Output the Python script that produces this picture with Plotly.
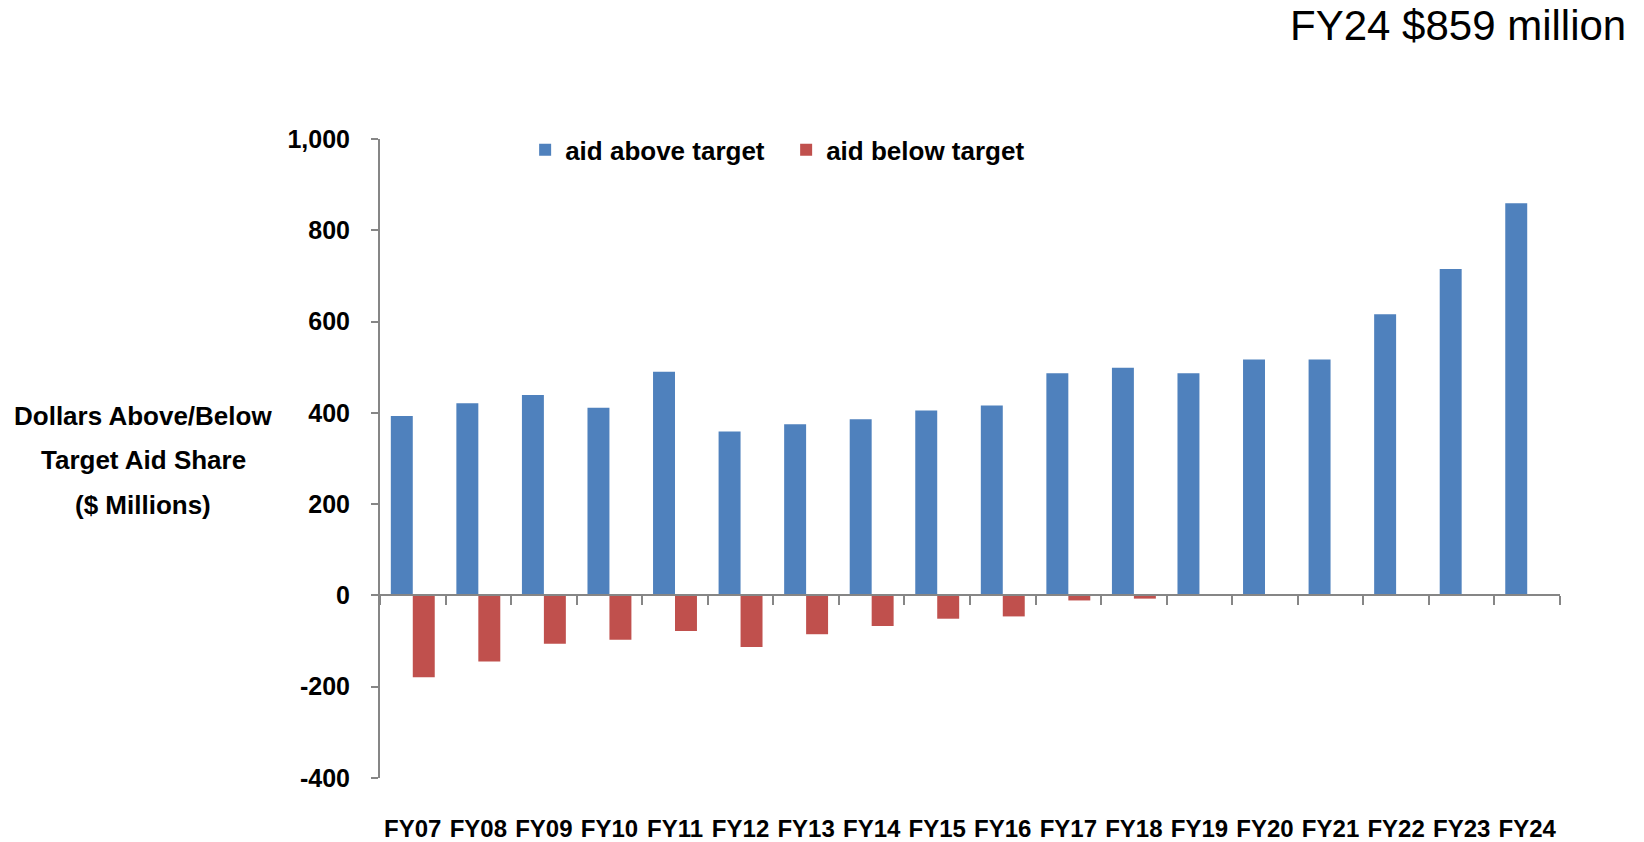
import plotly.graph_objects as go

# Fiscal years and aid relative to target share ($ millions)
years = ["FY07", "FY08", "FY09", "FY10", "FY11", "FY12", "FY13", "FY14", "FY15",
         "FY16", "FY17", "FY18", "FY19", "FY20", "FY21", "FY22", "FY23", "FY24"]
above_target = [393, 421, 439, 411, 490, 359, 375, 386, 405,
                416, 487, 499, 487, 517, 517, 616, 715, 859]
below_target = [-179, -145, -106, -97, -78, -113, -85, -67, -51,
                -46, -11, -7, 0, 0, 0, 0, 0, 0]

y_min, y_max = -400, 1000
y_ticks = [-400, -200, 0, 200, 400, 600, 800, 1000]
y_tick_text = ["-400", "-200", "0", "200", "400", "600", "800", "1,000"]

y_title_lines = ["Dollars Above/Below", "Target Aid Share", "($ Millions)"]

BLUE = "#4F81BD"
RED = "#C0504D"
GRAY = "#868686"
BOLD = "Liberation Sans"

fig = go.Figure()
fig.add_trace(go.Bar(x=years, y=above_target, name="aid above target",
                     marker=dict(color=BLUE, line=dict(width=0))))
fig.add_trace(go.Bar(x=years, y=below_target, name="aid below target",
                     marker=dict(color=RED, line=dict(width=0))))
# carrier trace for the category axis drawn along zero
fig.add_trace(go.Scatter(x=years, y=[0] * len(years), xaxis="x2", mode="lines",
                         line=dict(width=0), hoverinfo="skip", showlegend=False))

zero_pos = (0 - y_min) / (y_max - y_min)

annotations = []
for i, line in enumerate(y_title_lines):
    annotations.append(dict(
        text=line, xref="paper", yref="paper", x=-0.2008, y=0.567 - i * 0.0695,
        xanchor="center", yanchor="middle", showarrow=False,
        font=dict(family=BOLD, size=26, weight="bold", color="black")))
annotations.append(dict(
    text="FY24 $859 million", xref="paper", yref="paper", x=1.0576, y=1.178,
    xanchor="right", yanchor="middle", showarrow=False,
    font=dict(family="Liberation Sans", size=42, color="black")))

fig.update_layout(
    width=1644, height=842,
    margin=dict(l=380, r=84, t=139, b=64),
    paper_bgcolor="white", plot_bgcolor="white",
    barmode="group", bargap=0.33, bargroupgap=0,
    font=dict(family=BOLD, color="black"),
    xaxis=dict(
        type="category", categoryarray=years, range=[-0.5, len(years) - 0.5],
        showline=False, ticks="", showgrid=False, zeroline=False,
        tickangle=0, automargin=False,
        tickfont=dict(family=BOLD, size=24, weight="bold", color="black"),
        ticklabelstandoff=34,
    ),
    xaxis2=dict(
        type="category", categoryarray=years, range=[-0.5, len(years) - 0.5],
        overlaying="x", anchor="free", position=zero_pos, side="bottom",
        showticklabels=False, showgrid=False, zeroline=False, automargin=False,
        showline=True, linecolor=GRAY, linewidth=2,
        ticks="outside", tickson="boundaries", ticklen=9, tickwidth=2, tickcolor=GRAY,
    ),
    yaxis=dict(
        range=[y_min, y_max], tickvals=y_ticks, ticktext=y_tick_text,
        showgrid=False, zeroline=False, automargin=False,
        showline=True, linecolor=GRAY, linewidth=2,
        ticks="outside", ticklen=7, tickwidth=2, tickcolor=GRAY,
        tickfont=dict(family=BOLD, size=25, weight="bold", color="black"),
        ticklabelstandoff=16,
    ),
    legend=dict(
        orientation="h", x=0.123, y=0.983, xanchor="left", yanchor="middle",
        font=dict(family=BOLD, size=26, weight="bold", color="black"),
        bgcolor="rgba(0,0,0,0)", entrywidth=216, entrywidthmode="pixels",
    ),
    annotations=annotations,
)

fig.write_html("out.html")
